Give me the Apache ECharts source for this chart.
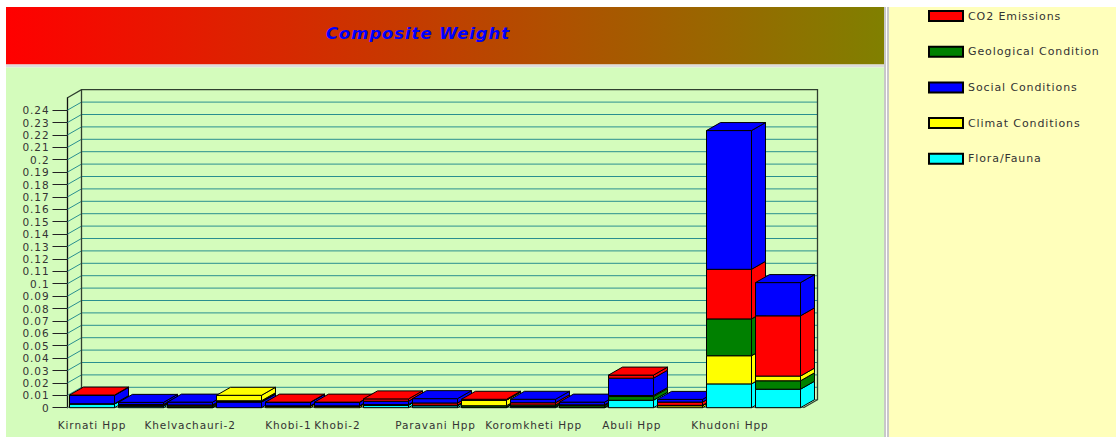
<!DOCTYPE html>
<html>
<head>
<meta charset="utf-8">
<style>
  html, body { margin: 0; padding: 0; background: #fff; }
  #chart { width: 1116px; height: 437px; }
  /* the source text runs wide, letter spacing gets the same label widths */
  #chart text { letter-spacing: 0.9px; }
</style>
<script src="https://cdn.jsdelivr.net/npm/echarts@6/dist/echarts.min.js"></script>
</head>
<body>
<div id="chart"></div>
<script>
// only every other station name is printed on the axis
const categories = ["Kirnati Hpp", "", "Khelvachauri-2", "", "Khobi-1", "Khobi-2", "", "Paravani Hpp", "",
  "Koromkheti Hpp", "", "Abuli Hpp", "", "Khudoni Hpp", ""];
const yTicks = [0, 0.01, 0.02, 0.03, 0.04, 0.05, 0.06, 0.07, 0.08, 0.09, 0.1, 0.11, 0.12,
  0.13, 0.14, 0.15, 0.16, 0.17, 0.18, 0.19, 0.2, 0.21, 0.22, 0.23, 0.24];

const co2 =      [0.0003, 0.0007, 0.0008, 0.0001, 0.0002, 0.0002, 0.0019, 0.0018, 0.0006, 0.0018, 0.0007, 0.0025, 0.0026, 0.04,   0.0486];
const geo =      [0.0001, 0.0005, 0.0012, 0.0005, 0.0002, 0.0002, 0.0004, 0.0002, 0.0012, 0.0012, 0.0014, 0.003,  0.0002, 0.0297, 0.0068];
const social =   [0.0067, 0.0017, 0.0023, 0.0045, 0.0028, 0.0028, 0.0027, 0.0035, 0.0001, 0.0028, 0.0022, 0.014,  0.0022, 0.1119, 0.0268];
const climat =   [0.0001, 0.0001, 0.0001, 0.0044, 0.0012, 0.0012, 0.0001, 0.0003, 0.0045, 0.0002, 0.0001, 0.0008, 0.0016, 0.0227, 0.0038];
const flora =    [0.003,  0.0013, 0.0001, 0.0005, 0.0001, 0.0001, 0.002,  0.0015, 0.0004, 0.0008, 0.0001, 0.006,  0.0001, 0.0192, 0.0149];

// the source chart stacks every bar in its own order, bottom to top
const F = "Flora/Fauna", C = "Climat Conditions", S = "Social Conditions", G = "Geological Condition", R = "CO2 Emissions";
const stackOrder = [
  [F, C, G, S, R], [F, C, G, R, S], [F, C, G, R, S], [S, F, G, R, C], [C, F, G, S, R],
  [C, F, G, S, R], [F, C, G, S, R], [F, C, G, R, S], [F, G, C, S, R], [F, C, G, R, S],
  [F, C, G, R, S], [F, G, C, S, R], [C, F, G, R, S], [F, C, G, R, S], [F, G, C, R, S]
];

const seriesInfo = [
  { name: R, color: "#ff0000", values: co2 },
  { name: G, color: "#008000", values: geo },
  { name: S, color: "#0000ff", values: social },
  { name: C, color: "#ffff00", values: climat },
  { name: F, color: "#00ffff", values: flora }
];

const depthX = 14;
const depthY = 8;

function valueOf(name, i) {
  return seriesInfo.find(s => s.name === name).values[i];
}

// 3d box for one segment, base taken from the bar's own stacking order
function renderBox(info) {
  return function (params, api) {
    const i = api.value(0);
    const order = stackOrder[i];
    const pos = order.indexOf(info.name);
    let base = 0;
    for (let k = 0; k < pos; k++) base += valueOf(order[k], i);
    const p0 = api.coord([i, base]);
    const p1 = api.coord([i, base + api.value(1)]);
    const w = Math.round(api.size([1, 0])[0] * 0.92);
    // bars sit a touch left of their tick in the source
    const x = Math.round(p0[0] - w / 2) - 0.5;
    const y0 = p0[1];
    const y1 = p1[1];
    const style = { fill: info.color, stroke: "#000", lineWidth: 1 };
    const z2 = i * 10 + pos;
    const children = [
      { type: "polygon", z2: z2, shape: { points: [[x + w, y0], [x + w + depthX, y0 - depthY], [x + w + depthX, y1 - depthY], [x + w, y1]] }, style: style },
      { type: "rect", z2: z2, shape: { x: x, y: y1, width: w, height: y0 - y1 }, style: style }
    ];
    if (pos === order.length - 1) {
      children.push({ type: "polygon", z2: z2, shape: { points: [[x, y1], [x + depthX, y1 - depthY], [x + w + depthX, y1 - depthY], [x + w, y1]] }, style: style });
    }
    return { type: "group", children: children };
  };
}

// left and right end of the plot at a value, category coords stop at the band centres
function plotEnds(api, v) {
  const half = api.size([1, 0])[0] / 2;
  const a = api.coord([0, v]);
  const b = api.coord([categories.length - 1, v]);
  return [[a[0] - half, a[1]], [b[0] + half, b[1]]];
}

// back wall lines and the little slanted bits on the left wall
function renderWallLine(params, api) {
  const v = api.value(0);
  const ends = plotEnds(api, v);
  const a = ends[0];
  const b = ends[1];
  return {
    type: "polyline",
    z2: -1,
    shape: { points: [a, [a[0] + depthX, a[1] - depthY], [b[0] + depthX, b[1] - depthY]] },
    style: { stroke: v === 0 ? "#5f7f6f" : "#2a8f8f", lineWidth: 1, fill: null }
  };
}

// outline of the box the bars sit in
function renderFrame(params, api) {
  const topEnds = plotEnds(api, 0.25);
  const zeroEnds = plotEnds(api, 0);
  const a = topEnds[0];
  const o = zeroEnds[0];
  const b = zeroEnds[1];
  const style = { stroke: "#2f3f2f", lineWidth: 1.3, fill: null };
  return { type: "group", children: [
    { type: "polyline", z2: -1, shape: { points: [a, [a[0] + depthX, a[1] - depthY], [b[0] + depthX, a[1] - depthY], [b[0] + depthX, b[1] - depthY], b] }, style: style },
    { type: "line", z2: -1, shape: { x1: o[0] + depthX, y1: o[1] - depthY, x2: a[0] + depthX, y2: a[1] - depthY }, style: style }
  ] };
}

const series = [
  { type: "custom", name: "wall", silent: true, clip: false, renderItem: renderWallLine, data: yTicks.map(v => [v]), encode: { y: 0 } },
  { type: "custom", name: "frame", silent: true, clip: false, renderItem: renderFrame, data: [[0]] }
];
seriesInfo.forEach(function (info) {
  series.push({
    type: "custom",
    name: info.name,
    clip: false,
    itemStyle: { color: info.color, borderColor: "#000", borderWidth: 1 },
    renderItem: renderBox(info),
    encode: { x: 0, y: 1 },
    data: info.values.map((v, i) => [i, v])
  });
});

const myChart = echarts.init(document.getElementById("chart"), null, { renderer: "svg" });
myChart.setOption({
  animation: false,
  backgroundColor: "#ffffff",
  textStyle: { fontFamily: "DejaVu Sans" },
  graphic: [
    { type: "rect", z: -10, shape: { x: 6, y: 7, width: 879, height: 57.5 },
      style: { fill: new echarts.graphic.LinearGradient(0, 0, 1, 0, [{ offset: 0, color: "#ff0000" }, { offset: 1, color: "#808000" }]) } },
    { type: "rect", z: -10, shape: { x: 6, y: 64.5, width: 879, height: 3 }, style: { fill: "#dddddd" } },
    { type: "rect", z: -10, shape: { x: 6, y: 67.5, width: 878, height: 370 }, style: { fill: "#d4fcbc" } },
    { type: "rect", z: -10, shape: { x: 884, y: 7, width: 2, height: 430 }, style: { fill: "#c8c8c8" } },
    { type: "rect", z: -10, shape: { x: 887, y: 7, width: 2, height: 430 }, style: { fill: "#c8c8c8" } },
    { type: "rect", z: -10, shape: { x: 889, y: 7, width: 227, height: 430 }, style: { fill: "#ffffbb" } }
  ],
  title: {
    text: "Composite Weight",
    left: 413, top: 20, textAlign: "center",
    textStyle: { color: "#0000ff", fontSize: 16.5, fontStyle: "italic", fontWeight: "bold", fontFamily: "DejaVu Sans" }
  },
  legend: {
    orient: "vertical",
    left: 923, top: 5,
    itemWidth: 34, itemHeight: 10, itemGap: 23.7,
    icon: "rect",
    data: seriesInfo.map(s => s.name),
    selectedMode: false,
    textStyle: { color: "#333", fontSize: 11, fontFamily: "DejaVu Sans" }
  },
  grid: { left: 67.5, top: 97.7, width: 736, height: 310 },
  xAxis: {
    type: "category",
    data: categories,
    axisLine: { lineStyle: { color: "#5f7f6f", width: 1 } },
    axisTick: { alignWithLabel: true, length: 9, lineStyle: { color: "#333" } },
    axisLabel: { interval: 0, margin: 12, color: "#333", fontSize: 10.5 },
    splitLine: { show: false }
  },
  yAxis: {
    type: "value",
    min: 0, max: 0.25,
    axisLine: { show: true, lineStyle: { color: "#111", width: 1.3 } },
    axisTick: { show: true, length: 15, customValues: yTicks, lineStyle: { color: "#222" } },
    axisLabel: { customValues: yTicks, margin: 18, color: "#333", fontSize: 10.5 },
    splitLine: { show: false }
  },
  series: series
});
window.onresize = function () {
  myChart.resize();
};
</script>
</body>
</html>
